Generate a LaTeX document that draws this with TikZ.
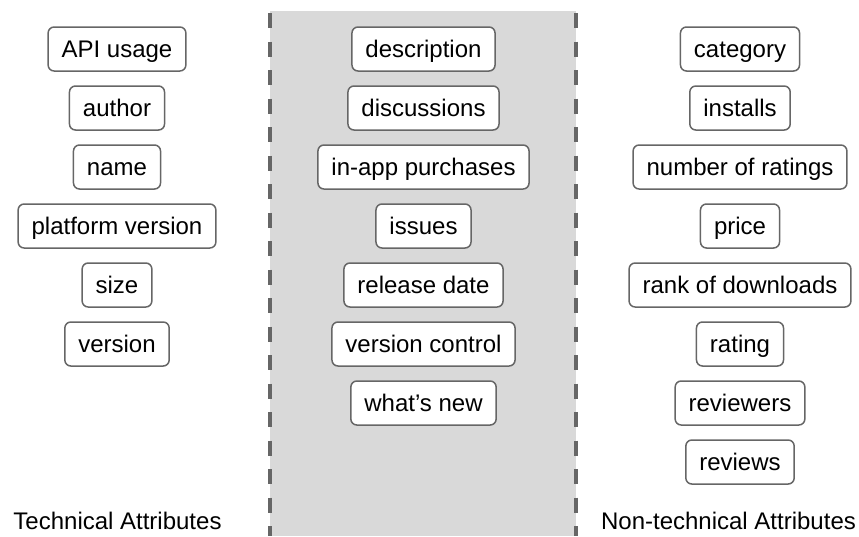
\documentclass[tikz,border=0pt]{standalone}
\usepackage{fontspec}
\setmainfont{Liberation Sans}
\usetikzlibrary{positioning}
\definecolor{edgegray}{HTML}{666666}
\definecolor{bandgray}{HTML}{D9D9D9}
\tikzstyle{attr} = [rectangle, draw=edgegray, line width=1.5pt, fill=white,
rounded corners=6pt, inner xsep=13.5pt, inner ysep=0pt, minimum height=44pt,
text height=17pt, text depth=0pt, font=\fontsize{24}{28}\selectfont]
\tikzstyle{caption} = [anchor=base, font=\fontsize{24}{28}\selectfont]
\tikzstyle{divider} = [draw=edgegray, line width=4pt, dash pattern=on 15pt off 13.5pt]

\begin{document}
\begin{tikzpicture}[x=1pt, y=1pt, node distance=59pt]
	\useasboundingbox (0,0) rectangle (859,-536);
	% Middle band
	\fill [bandgray] (270,-11) rectangle (576,-536);
	\draw [divider] (270,-13) -- (270,-536);
	\draw [divider] (576,-13) -- (576,-536);
	%
	% Technical attributes
	\node [attr] (api) at (117,-49) {API usage};
	\node [attr, below of=api] (author) {author};
	\node [attr, below of=author] (name) {name};
	\node [attr, below of=name] (platform) {platform version};
	\node [attr, below of=platform] (size) {size};
	\node [attr, below of=size] (version) {version};
	%
	% Shared attributes
	\node [attr] (descr) at (423.5,-49) {description};
	\node [attr, below of=descr] (discuss) {discussions};
	\node [attr, below of=discuss] (inapp) {in-app purchases};
	\node [attr, below of=inapp] (issues) {issues};
	\node [attr, below of=issues] (release) {release date};
	\node [attr, below of=release] (vcs) {version control};
	\node [attr, below of=vcs] (whatsnew) {what's new};
	%
	% Non-technical attributes
	\node [attr] (category) at (740,-49) {category};
	\node [attr, below of=category] (installs) {installs};
	\node [attr, below of=installs] (numratings) {number of ratings};
	\node [attr, below of=numratings] (price) {price};
	\node [attr, below of=price] (rank) {rank of downloads};
	\node [attr, below of=rank] (rating) {rating};
	\node [attr, below of=rating] (reviewers) {reviewers};
	\node [attr, below of=reviewers] (reviews) {reviews};
	%
	\node [caption] (techLegend) at (117.5,-529) {Technical Attributes};
	\node [caption] (nontechLegend) at (728.5,-529) {Non-technical Attributes};
\end{tikzpicture}
\end{document}
